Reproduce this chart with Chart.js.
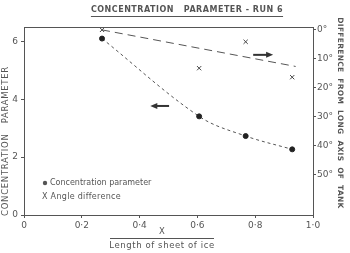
<!DOCTYPE html>
<html>
<head>
<meta charset="utf-8">
<script src="https://cdn.jsdelivr.net/npm/chart.js@4/dist/chart.umd.min.js"></script>
<style>
  html, body { margin: 0; padding: 0; background: #fff; }
  #wrap { width: 350px; height: 253px; position: relative; }
</style>
</head>
<body>
<div id="wrap"><canvas id="c"></canvas></div>
<script>
// values
const concX = [0.27, 0.606, 0.767, 0.928];
const concentration = [6.1, 3.41, 2.73, 2.27];
const angleX = [0.27, 0.606, 0.767, 0.928];
const angleDiff = [0, 13.2, 4.1, 16.3];
const angleFitX = [0.27, 0.94];
const angleFit = [0, 12.6];

const xTicks = [0, 0.2, 0.4, 0.6, 0.8, 1.0];
const concTicks = [0, 2, 4, 6];
const angleTicks = [0, 10, 20, 30, 40, 50];

const titleText = "CONCENTRATION   PARAMETER - RUN 6";
const leftTitle = "CONCENTRATION   PARAMETER";
const rightTitle = "DIFFERENCE  FROM  LONG  AXIS  OF  TANK";
const xTitleTop = "X";
const xTitleBottom = "Length of sheet of ice";
const legendLabels = ["Concentration parameter", "Angle difference"];

// arrows: which axis they point to
const arrowToAngle = {x: [0.793, 0.862], y: 8.6};
const arrowToConc = {x: [0.502, 0.437], y: 3.77};

const ink = "#555";
const FONT = "'DejaVu Sans', sans-serif";

function pts(xs, ys) {
  return xs.map((x, i) => ({x: x, y: ys[i]}));
}

function fmtX(v) {
  if (v === 0) return "0";
  return v.toFixed(1).replace(".", "\u00b7");
}

function spacedText(ctx, text, x, y, spacing) {
  ctx.letterSpacing = spacing + "px";
  ctx.fillText(text, x, y);
  ctx.letterSpacing = "0px";
}

function arrow(ctx, x0, x1, y) {
  const dir = x1 > x0 ? 1 : -1;
  ctx.save();
  ctx.strokeStyle = "#333";
  ctx.fillStyle = "#333";
  ctx.lineWidth = 2;
  ctx.beginPath();
  ctx.moveTo(x0, y);
  ctx.lineTo(x1 - dir * 5, y);
  ctx.stroke();
  ctx.beginPath();
  ctx.moveTo(x1, y);
  ctx.lineTo(x1 - dir * 7, y - 3);
  ctx.lineTo(x1 - dir * 7, y + 3);
  ctx.closePath();
  ctx.fill();
  ctx.restore();
}

const decor = {
  id: "decor",
  afterDraw(chart) {
    const ctx = chart.ctx;
    const a = chart.chartArea;
    const sx = chart.scales.x, sl = chart.scales.yConc, sr = chart.scales.yAngle;
    ctx.save();
    ctx.fillStyle = ink;
    ctx.strokeStyle = ink;

    // frame top
    ctx.lineWidth = 1;
    ctx.beginPath();
    ctx.moveTo(a.left, a.top + 0.5);
    ctx.lineTo(a.right, a.top + 0.5);
    ctx.stroke();

    // title
    ctx.font = "bold 8px " + FONT;
    ctx.textAlign = "center";
    ctx.textBaseline = "middle";
    ctx.letterSpacing = "0.5px";
    const tw = ctx.measureText(titleText).width;
    ctx.fillText(titleText, 187, 10);
    ctx.letterSpacing = "0px";
    ctx.beginPath();
    ctx.moveTo(187 - tw / 2, 16.5);
    ctx.lineTo(187 + tw / 2, 16.5);
    ctx.stroke();

    // left title
    ctx.save();
    ctx.translate(6, 141);
    ctx.rotate(-Math.PI / 2);
    ctx.font = "8.5px " + FONT;
    spacedText(ctx, leftTitle, 0, 0, 0.7);
    ctx.restore();

    // right title
    ctx.save();
    ctx.translate(340, 113);
    ctx.rotate(Math.PI / 2);
    ctx.font = "bold 7.5px " + FONT;
    spacedText(ctx, rightTitle, 0, 0, 0.3);
    ctx.restore();

    // x title fraction
    ctx.font = "8.5px " + FONT;
    ctx.fillText(xTitleTop, 162, 232);
    spacedText(ctx, xTitleBottom, 162, 246, 0.6);
    ctx.beginPath();
    ctx.moveTo(110, 238.5);
    ctx.lineTo(214, 238.5);
    ctx.stroke();

    // legend
    ctx.textAlign = "left";
    ctx.font = "8px " + FONT;
    ctx.beginPath();
    ctx.arc(45, 183, 2.2, 0, Math.PI * 2);
    ctx.fill();
    spacedText(ctx, legendLabels[0], 50, 183, 0);
    spacedText(ctx, "X " + legendLabels[1], 42, 197, 0.3);

    // arrows
    arrow(ctx, sx.getPixelForValue(arrowToAngle.x[0]), sx.getPixelForValue(arrowToAngle.x[1]),
      sr.getPixelForValue(arrowToAngle.y));
    arrow(ctx, sx.getPixelForValue(arrowToConc.x[0]), sx.getPixelForValue(arrowToConc.x[1]),
      sl.getPixelForValue(arrowToConc.y));
    ctx.restore();
  }
};

Chart.defaults.font.family = FONT;
Chart.defaults.color = ink;
Chart.defaults.font.size = 9;

new Chart(document.getElementById("c"), {
  type: "scatter",
  data: {
    datasets: [
      {
        data: pts(concX, concentration),
        yAxisID: "yConc",
        showLine: true,
        tension: 0.35,
        borderColor: "#555",
        borderWidth: 1,
        borderDash: [3, 3],
        pointStyle: "circle",
        pointRadius: 2.5,
        pointBackgroundColor: "#222",
        pointBorderColor: "#222",
      },
      {
        data: pts(angleFitX, angleFit),
        yAxisID: "yAngle",
        showLine: true,
        borderColor: "#555",
        borderWidth: 1,
        borderDash: [8, 5],
        pointRadius: 0,
      },
      {
        data: pts(angleX, angleDiff),
        yAxisID: "yAngle",
        showLine: false,
        pointStyle: "crossRot",
        pointRadius: 3,
        pointBorderColor: "#444",
        pointBorderWidth: 1,
      },
    ],
  },
  options: {
    responsive: true,
    maintainAspectRatio: false,
    animation: false,
    events: [],
    layout: { padding: { top: 27, left: 0, right: 0, bottom: 0 } },
    plugins: {
      legend: { display: false },
      tooltip: { enabled: false },
    },
    scales: {
      x: {
        type: "linear",
        min: 0,
        max: 1,
        afterBuildTicks: (s) => { s.ticks = xTicks.map(v => ({value: v})); },
        afterFit: (s) => { s.height = 38; },
        ticks: { callback: fmtX, padding: 2, maxRotation: 0, font: { size: 9 } },
        grid: { drawOnChartArea: false, tickLength: 3, color: ink },
        border: { color: ink, width: 1 },
      },
      yConc: {
        type: "linear",
        position: "left",
        min: 0,
        max: 6.5,
        afterBuildTicks: (s) => { s.ticks = concTicks.map(v => ({value: v})); },
        afterFit: (s) => { s.width = 24; },
        ticks: { padding: 3, font: { size: 9 } },
        grid: { drawOnChartArea: false, tickLength: 3, color: ink },
        border: { color: ink, width: 1 },
      },
      yAngle: {
        type: "linear",
        position: "right",
        reverse: true,
        min: -1,
        max: 63.8,
        afterBuildTicks: (s) => { s.ticks = angleTicks.map(v => ({value: v})); },
        afterFit: (s) => { s.width = 37; },
        ticks: { padding: 1, callback: (v) => v + "\u00b0", font: { size: 9 } },
        grid: { drawOnChartArea: false, tickLength: 3, color: ink },
        border: { color: ink, width: 1 },
      },
    },
  },
  plugins: [decor],
});
</script>
</body>
</html>
